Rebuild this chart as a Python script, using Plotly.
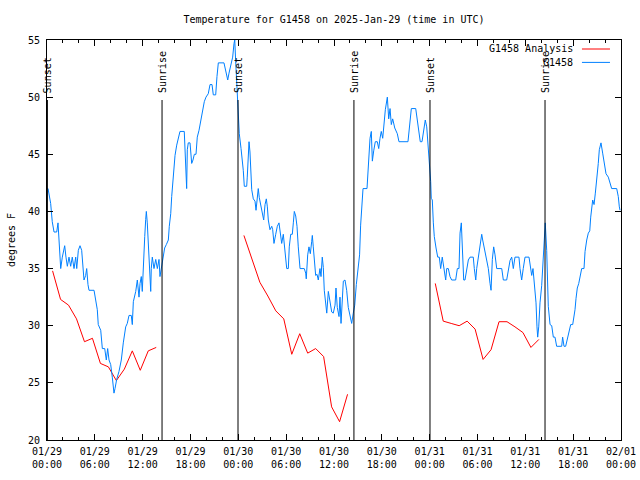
import pandas as pd
import plotly.graph_objects as go

BASE = pd.Timestamp("2025-01-29 00:00")

# Observed temperature (G1458), hours since 2025-01-29 00:00 UTC
obs_hours = [
    0.04, 0.13, 0.46, 0.66, 0.88, 1.22, 1.38, 1.5, 1.63, 1.72, 1.92, 2.22, 2.38, 2.55, 2.76, 2.97,
    3.17, 3.39, 3.6, 3.73, 3.93, 4.14, 4.35, 4.55, 4.64, 4.85, 4.98, 5.14, 5.27, 5.9, 6.11, 6.31,
    6.43, 6.74, 6.94, 7.24, 7.44, 7.61, 7.78, 7.99, 8.19, 8.4, 8.53, 8.74, 9.03, 9.32, 9.57, 9.87,
    10.07, 10.29, 10.57, 10.7, 10.83, 11.13, 11.33, 11.54, 11.67, 11.83, 11.95, 12.08, 12.17, 12.26,
    12.38, 12.46, 12.58, 12.71, 12.83, 13.01, 13.08, 13.21, 13.42, 13.64, 13.84, 14.05, 14.17, 14.34,
    14.55, 14.76, 14.97, 15.22, 15.34, 15.52, 15.64, 15.84, 16.06, 16.27, 16.47, 16.68, 17.22, 17.4,
    17.52, 17.6, 17.72, 17.94, 18.15, 18.31, 18.48, 18.69, 18.85, 19.07, 19.28, 19.48, 19.73, 19.94,
    20.23, 20.45, 20.7, 20.86, 21.16, 21.32, 21.49, 22.2, 22.42, 22.67, 22.83, 23.08, 23.29, 23.46,
    23.55, 23.67, 23.8, 23.92, 24.0,
    24.12, 24.34, 24.5, 24.62, 24.75, 25.05, 25.12, 25.25, 25.34, 25.46, 25.55, 25.68, 25.88, 26.09,
    26.22, 26.38, 26.5, 26.63, 26.84, 27.0, 27.18, 27.35, 27.51, 27.64, 27.76, 27.97, 28.19, 28.31,
    28.47, 28.69, 28.89, 29.1, 29.27, 29.44, 29.64, 29.77, 29.94, 30.07, 30.27, 30.39, 30.57, 30.77,
    30.9, 31.02, 31.2, 31.36, 31.52, 31.74, 32.27, 32.45, 32.52, 32.7, 32.86, 33.03, 33.2, 33.28,
    33.4, 33.53, 33.7, 33.87, 34.03, 34.24, 34.37, 34.53, 34.66, 34.78, 34.96, 35.09, 35.29, 35.5,
    35.71, 35.91, 36.13, 36.25, 36.41, 36.63, 36.75, 36.88, 37.04, 37.17, 37.38, 37.59, 37.79, 38.0,
    38.22, 38.42, 38.6, 38.8, 39.0, 39.21, 39.34, 39.51, 39.64, 40.14, 40.27, 40.39, 40.52, 40.68,
    40.81, 40.98, 41.18, 41.43, 41.61, 41.77, 41.93, 42.11, 42.27, 42.44, 42.69, 42.86, 43.03, 43.19,
    43.36, 43.62, 43.94, 44.15, 45.28, 45.41, 45.57, 45.7, 46.25, 46.41, 46.62, 46.82, 47.04, 47.29,
    47.45, 47.63, 47.79, 47.92, 48.04,
    48.13, 48.2, 48.33, 48.46, 48.58, 48.8, 49.01, 49.21, 49.38, 49.58, 49.8, 50.01, 50.14, 50.34,
    50.55, 50.76, 51.26, 51.47, 51.68, 51.81, 51.97, 52.1, 52.27, 52.43, 52.65, 52.85, 53.06, 53.47,
    53.6, 53.78, 53.9, 54.1, 54.31, 54.53, 54.65, 54.82, 55.07, 55.36, 55.57, 55.7, 55.86, 56.03,
    56.2, 56.41, 57.04, 57.24, 57.66, 57.87, 58.08, 58.29, 58.49, 58.7, 59.2, 59.33, 59.54, 59.74,
    59.96, 60.46, 60.62, 60.8, 60.96, 61.13, 61.34, 61.46, 61.55, 61.68, 61.84, 62.05, 62.25, 62.38,
    62.5, 62.68, 62.88, 63.1, 63.31, 63.51, 63.72, 63.93, 64.56, 64.68, 64.85, 65.06, 65.27, 65.48,
    65.69, 65.94, 66.11, 66.23, 66.36, 66.52, 66.7, 66.86, 67.07, 67.36, 67.49, 67.7, 67.9, 68.08,
    68.2, 68.45, 68.62, 68.78, 68.95, 69.15, 69.28, 69.49, 69.7, 69.91, 70.12, 70.41, 70.62, 70.83,
    71.46, 71.66, 71.79, 71.88,
]
obs_temps = [
    42.0, 42.0, 40.7, 39.1, 38.2, 38.2, 39.0, 37.8, 36.0, 35.0, 36.0, 37.0, 36.0, 35.2, 36.0, 35.2,
    36.0, 35.0, 36.0, 35.0, 36.6, 37.0, 36.6, 35.2, 34.0, 34.4, 35.0, 33.6, 33.1, 33.1, 32.3, 31.4,
    30.1, 29.6, 28.0, 28.0, 27.0, 28.0, 27.0, 26.6, 25.5, 24.1, 24.5, 25.3, 26.0, 27.0, 28.5, 29.9,
    30.2, 30.9, 30.9, 30.1, 32.1, 33.0, 34.0, 32.5, 33.7, 34.3, 33.0, 35.5, 36.6, 37.8,
    39.3, 40.0, 39.0, 36.9, 34.9, 33.0, 35.0, 36.0, 35.0, 35.8, 35.0, 35.8, 34.3, 35.1,
    35.8, 36.8, 37.1, 37.5, 38.7, 39.8, 41.3, 43.5, 44.9, 45.8, 46.5, 47.0, 47.0, 43.3,
    42.0, 45.4, 46.0, 46.0, 44.2, 44.5, 45.0, 45.0, 46.5, 47.1, 48.0, 48.9, 49.6, 50.0,
    50.3, 51.1, 51.1, 50.2, 50.2, 51.8, 53.0, 53.0, 52.4, 51.5, 52.1, 53.0, 53.5, 54.7,
    55.0, 53.1, 51.5, 49.5, 48.3,
    46.8, 45.5, 44.5, 43.6, 42.2, 42.2, 43.0, 45.1, 46.1, 45.2, 43.8, 41.9, 41.1, 40.9,
    40.1, 41.4, 42.0, 41.2, 40.4, 40.1, 39.25, 40.6, 41.1, 40.4, 39.25, 38.4, 38.7, 38.4,
    37.2, 38.0, 38.7, 39.0, 38.0, 37.2, 38.0, 37.1, 35.9, 35.0, 35.0, 36.9, 38.0, 38.0,
    39.0, 40.0, 39.6, 38.7, 36.9, 35.0, 35.0, 34.6, 34.1, 36.2, 36.9, 36.3, 37.35, 37.9,
    36.9, 35.75, 34.4, 34.5, 34.0, 35.0, 34.3, 36.0, 35.1, 33.1, 31.8, 31.1, 33.0, 32.1,
    31.2, 31.1, 31.8, 33.3, 31.6, 30.8, 32.5, 30.2, 32.1, 33.9, 34.0, 33.1, 31.6, 30.8,
    30.2, 31.1, 31.8, 33.6, 35.0, 36.2, 38.8, 40.7, 42.0, 42.0, 43.8, 44.9, 46.4, 47.0,
    44.4, 45.3, 46.1, 46.1, 45.5, 46.4, 47.0, 46.4, 48.1, 48.9, 50.0, 48.1, 49.0, 47.6,
    48.1, 47.3, 46.8, 46.1, 46.1, 47.0, 48.4, 49.0, 49.0, 48.1, 47.3, 46.1, 46.1, 47.3,
    48.0, 47.4, 46.1, 44.9, 43.9,
    42.6, 41.15, 41.0, 39.0, 37.8, 36.8, 36.0, 36.0, 35.0, 36.0, 35.0, 34.0, 35.0, 35.0,
    34.3, 34.0, 34.0, 35.0, 35.0, 38.1, 39.0, 37.1, 34.0, 34.0, 35.0, 35.75, 36.0, 36.0,
    35.0, 34.0, 35.0, 36.0, 37.2, 38.0, 37.5, 36.9, 36.0, 35.0, 33.7, 33.1, 35.8, 36.9,
    36.2, 35.0, 35.0, 34.0, 34.0, 34.9, 35.7, 36.0, 35.0, 36.0, 36.0, 35.0, 34.0, 35.0,
    36.0, 36.0, 35.0, 34.4, 35.0, 33.7, 32.0, 29.9, 29.0, 29.9, 32.0, 33.5, 36.0, 38.1,
    39.0, 36.6, 31.7, 30.1, 30.0, 29.0, 29.0, 28.2, 28.2, 29.0, 28.2, 28.2, 28.8, 29.6,
    30.1, 30.1, 30.7, 31.4, 32.4, 33.3, 33.7, 34.2, 35.0, 35.0, 36.5, 37.5, 38.1, 38.3,
    39.5, 41.0, 40.6, 41.6, 42.6, 44.2, 45.4, 46.0, 45.1, 44.2, 43.3, 43.0, 42.5, 42.0,
    42.0, 41.3, 40.4, 40.1,
]

# Analysis (G1458 Analysis), three daily segments
ana_hours_1 = [0.7, 1.7, 2.7, 3.7, 4.7, 5.7, 6.7, 7.7, 8.7, 9.7, 10.7, 11.7, 12.7, 13.7]
ana_temps_1 = [34.8, 32.3, 31.8, 30.6, 28.6, 28.9, 26.7, 26.4, 25.2, 26.2, 27.8, 26.1, 27.8, 28.1]
ana_hours_2 = [24.7, 25.7, 26.7, 27.7, 28.7, 29.7, 30.7, 31.7, 32.7, 33.7, 34.7, 35.7, 36.7, 37.7]
ana_temps_2 = [37.9, 35.8, 33.8, 32.6, 31.3, 30.6, 27.5, 29.3, 27.6, 28.0, 27.3, 22.9, 21.6, 24.0]
ana_hours_3 = [48.7, 49.7, 50.7, 51.7, 52.7, 53.7, 54.7, 55.7, 56.7, 57.7, 58.7, 59.7, 60.7, 61.7]
ana_temps_3 = [33.7, 30.4, 30.2, 30.0, 30.4, 29.7, 27.05, 27.9, 30.35, 30.35, 29.9, 29.4, 28.1, 28.8]

event_hours = [0.05, 14.43, 23.96, 38.5, 48.04, 62.47]
event_names = ["Sunset", "Sunrise", "Sunset", "Sunrise", "Sunset", "Sunrise"]

y_ticks = [20, 25, 30, 35, 40, 45, 50, 55]

FONT = "DejaVu Sans Mono"
RED = "#ff0000"
BLUE = "#0080ff"


def to_time(hours):
    return [BASE + pd.Timedelta(hours=h) for h in hours]


ana_x, ana_y = [], []
for hs, vs in [(ana_hours_1, ana_temps_1), (ana_hours_2, ana_temps_2), (ana_hours_3, ana_temps_3)]:
    ana_x += to_time(hs) + [None]
    ana_y += vs + [None]

fig = go.Figure()
fig.add_trace(go.Scatter(x=ana_x, y=ana_y, mode="lines", name="G1458 Analysis",
                         line=dict(color=RED, width=1), connectgaps=False))
fig.add_trace(go.Scatter(x=to_time(obs_hours), y=obs_temps, mode="lines", name="G1458",
                         line=dict(color=BLUE, width=1)))

for h, name in zip(event_hours, event_names):
    t = BASE + pd.Timedelta(hours=h)
    fig.add_shape(type="line", xref="x", yref="paper", x0=t, x1=t, y0=0, y1=0.85,
                  line=dict(color="black", width=1))
    fig.add_annotation(x=t, xref="x", y=0.8625, yref="paper", text=name, textangle=-90,
                       showarrow=False, xanchor="center", yanchor="bottom", xshift=1,
                       font=dict(family=FONT, size=10, color="black"))

# gnuplot-style legend: text on the left, line sample on the right
legend_rows = [("G1458 Analysis", RED, 0.9775), ("G1458", BLUE, 0.944)]
for label, color, yp in legend_rows:
    fig.add_annotation(x=0.9199, xref="paper", y=yp, yref="paper", text=label, showarrow=False,
                       xanchor="right", yanchor="middle", font=dict(family=FONT, size=10, color="black"))
    fig.add_shape(type="line", xref="paper", yref="paper", x0=0.932, x1=0.9808, y0=yp, y1=yp,
                  line=dict(color=color, width=1))

fig.update_layout(
    width=640, height=480,
    margin=dict(l=47, r=19, t=40, b=40),
    paper_bgcolor="white", plot_bgcolor="white",
    showlegend=False,
    font=dict(family=FONT, size=10, color="black"),
    title=dict(text="Temperature for G1458 on 2025-Jan-29 (time in UTC)", x=0.5, xref="paper",
               xanchor="center", y=1 - 19 / 480, yanchor="middle",
               font=dict(family=FONT, size=10, color="black")),
)
fig.update_xaxes(
    type="date", range=[BASE, BASE + pd.Timedelta(hours=72)], automargin=False,
    tick0=BASE, dtick=6 * 3600 * 1000, tickformat="%m/%d<br>%H:%M",
    ticks="inside", ticklen=6, tickcolor="black", showline=True, linecolor="black", linewidth=1,
    mirror="ticks", showgrid=False, zeroline=False, ticklabelstandoff=2,
    minor=dict(dtick=2 * 3600 * 1000, ticks="inside", ticklen=3, tickcolor="black", showgrid=False),
    tickfont=dict(family=FONT, size=10, color="black"),
)
fig.update_yaxes(
    range=[20, 55], tickmode="array", tickvals=y_ticks, ticktext=[str(v) for v in y_ticks],
    automargin=False,
    ticks="inside", ticklen=6, tickcolor="black", showline=True, linecolor="black", linewidth=1,
    mirror="ticks", showgrid=False, zeroline=False, ticklabelstandoff=4,
    title=dict(text="degrees F", standoff=10, font=dict(family=FONT, size=10, color="black")),
    tickfont=dict(family=FONT, size=10, color="black"),
)

fig.write_html("out.html", config={"displayModeBar": False},
               post_script="document.body.style.margin='0px';")
